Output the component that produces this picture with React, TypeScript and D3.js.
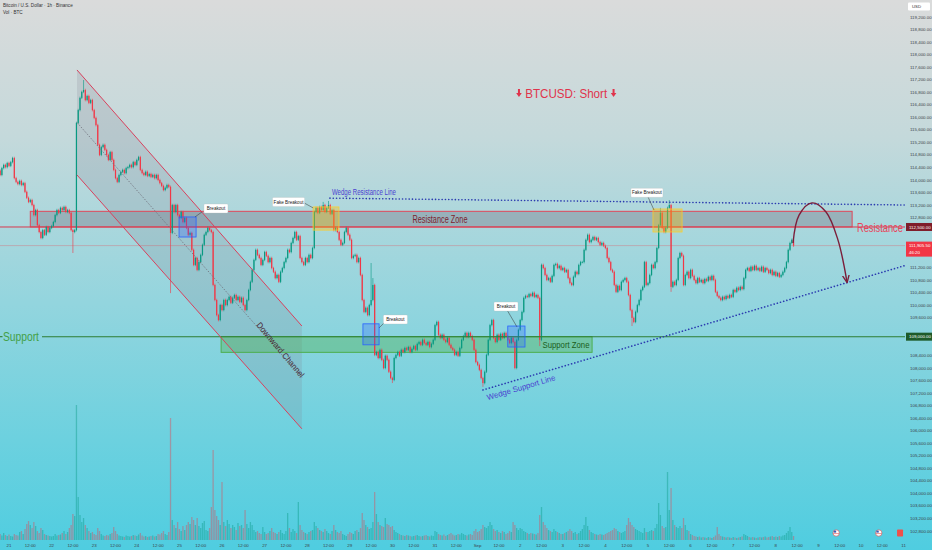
import React, { useRef, useEffect } from "react";
import * as d3 from "d3";

const W = 932;
const H = 550;
const HOUR = 3600e3;
const T0 = Date.UTC(2025, 7, 21); // Aug 21 00:00, hour 0 of the chart

// hourly closes (USD), first candle is Aug 20 19:00
const firstOpen = 114300;
const closes: number[] = [
  // Aug 20
  114160, 114380, 114480, 114410, 114540,
  // Aug 21
  114450, 114570, 114700, 114060, 113940, 113870, 113970, 113840, 113900, 113620, 113430, 113300,
  113360, 113200, 112880, 113040, 112560, 112340, 112150, 112400, 112250, 112500, 112340, 112470,
  // Aug 22
  112530, 112660, 112880, 113040, 112950, 113110, 113040, 113140, 112980, 113040, 112950, 112400,
  112340, 112400, 115820, 116230, 116620, 116810, 116870, 116550, 116680, 116460, 116550, 116230,
  // Aug 23
  115980, 115750, 115120, 114800, 115050, 115120, 114960, 114800, 114640, 114890, 114640, 114320,
  114060, 113940, 114160, 114260, 114320, 114220, 114380, 114410, 114480, 114410, 114570, 114480,
  // Aug 24
  114640, 114730, 114320, 114220, 114160, 114260, 114130, 114190, 114100, 114160, 114060, 114160,
  114000, 113900, 113810, 113680, 113750, 113840, 113780, 112310, 113200, 112980, 113200, 112880,
  // Aug 25
  112790, 112980, 112660, 112790, 112470, 112250, 112310, 111770, 111290, 111510, 111130, 111380,
  111610, 111930, 112250, 112340, 112470, 112400, 112340, 110650, 110170, 109690, 109530, 110010,
  // Aug 26
  109850, 110170, 110010, 110170, 110270, 110080, 110240, 110330, 110170, 110270, 110110, 110240,
  110010, 109850, 110170, 110490, 110750, 111130, 111450, 111770, 111610, 111510, 111290, 111450,
  // Aug 27
  111700, 111580, 111380, 111510, 111190, 111070, 110870, 110970, 110750, 111070, 111190, 111380,
  111510, 111770, 111700, 111990, 112150, 112340, 112090, 112210, 111510, 111380, 111290, 111510,
  // Aug 28
  111380, 111610, 111510, 111830, 112980, 113110, 112950, 113140, 113040, 113200, 112980, 113110,
  113200, 112920, 113040, 112400, 112470, 112340, 112090, 111930, 111990, 112340, 112470, 112250,
  // Aug 29
  112090, 111510, 111580, 111610, 111380, 111510, 110970, 110170, 109790, 109920, 109690, 110010,
  110170, 110650, 108420, 108510, 108320, 108580, 108260, 108000, 108390, 108260, 107880, 107680,
  // Aug 30
  107620, 108320, 108420, 108510, 108390, 108580, 108510, 108640, 108580, 108670, 108510, 108610,
  108700, 108580, 108770, 108830, 108740, 108900, 108800, 108740, 108830, 108670, 108770, 108900,
  // Aug 31
  109370, 109470, 109060, 108960, 109060, 108900, 108830, 108960, 108740, 108640, 108580, 108420,
  108510, 108390, 108640, 108900, 109020, 109120, 108990, 109120, 109020, 108900, 108580, 108190,
  // Sep 1
  108100, 107940, 107680, 107520, 107880, 108420, 108900, 109370, 109530, 108960, 108830, 109060,
  108900, 109090, 108960, 109120, 109020, 108900, 108800, 108960, 108830, 108000, 108900, 109220,
  // Sep 2
  109530, 109790, 110240, 110300, 110270, 110360, 110300, 110400, 110270, 110330, 110240, 108900,
  111290, 111190, 110970, 110810, 110870, 110750, 110940, 111290, 111320, 111190, 111260, 111130,
  // Sep 3
  111190, 111070, 111130, 110870, 110710, 110650, 110910, 111070, 111000, 111290, 111380, 111380,
  111770, 112090, 112250, 112020, 112090, 112180, 112090, 112150, 112020, 111930, 111990, 111900,
  // Sep 4
  111830, 111510, 111380, 111130, 111070, 110650, 110430, 110620, 110490, 110750, 110810, 110870,
  110750, 110330, 109850, 109600, 109470, 109790, 110010, 110170, 110490, 110590, 111380, 110650,
  // Sep 5
  110710, 110970, 111290, 111190, 111380, 111830, 112560, 112950, 112470, 112340, 112470, 113110,
  113200, 110590, 110750, 110650, 110810, 111510, 111670, 111580, 110650, 110970, 111070, 110870,
  // Sep 6
  111130, 110940, 110810, 110710, 110870, 110750, 110810, 110710, 110840, 110780, 110910, 110810,
  110940, 110810, 110430, 110300, 110240, 110170, 110270, 110200, 110300, 110240, 110330, 110270,
  // Sep 7
  110490, 110430, 110560, 110490, 110590, 110520, 110870, 111130, 111190, 111100, 111230, 111130,
  111260, 111130, 111190, 111100, 111230, 111070, 111190, 111130, 111030, 111130, 110970, 111070,
  // Sep 8
  110940, 111030, 110910, 110970, 111070, 111190, 111380, 111770, 111990, 112090, 111905.5,
];

// long wicks that stand out: [hour, price]
const highWicks: [number, number][] = [
  [42, 117190], [177, 113300], [180, 113330], [204, 111350], [205, 110870], [367, 113110], [372, 113360],
];
const lowWicks: [number, number][] = [
  [36, 111670], [91, 110390], [216, 107520], [267, 107400], [299, 108700], [351, 109340], [373, 110430],
];

// hourly volume (BTC)
const volumes: number[] = [
  60, 45, 70, 50, 40,
  55, 40, 35, 60, 50, 45, 80, 90, 60, 110, 160, 190, 150, 120, 180, 140, 90, 70, 120, 100, 60, 50, 45, 40,
  35, 40, 60, 45, 50, 55, 70, 90, 60, 80, 120, 150, 260, 240, 1350, 430, 250, 180, 220, 150, 120, 90, 70, 80,
  60, 50, 120, 90, 60, 45, 40, 50, 45, 60, 70, 130, 90, 60, 45, 40, 35, 30, 45, 40, 35, 40, 50, 45,
  40, 55, 70, 45, 35, 40, 30, 35, 40, 45, 35, 40, 60, 55, 70, 90, 60, 50, 80, 1220, 200, 150, 120, 180,
  110, 90, 140, 100, 150, 180, 160, 230, 200, 150, 220, 140, 120, 170, 190, 100, 90, 120, 330, 900, 300, 240, 200, 150,
  580, 180, 140, 200, 160, 120, 150, 130, 100, 170, 140, 150, 120, 300, 160, 120, 180, 150, 100, 80, 90, 70, 60, 130,
  80, 60, 70, 90, 120, 80, 70, 60, 80, 100, 70, 60, 90, 270, 120, 80, 110, 90, 70, 380, 150, 100, 80, 70,
  60, 80, 90, 100, 180, 140, 120, 100, 90, 80, 110, 90, 70, 60, 90, 150, 100, 80, 70, 90, 60, 50, 40, 60,
  80, 70, 60, 90, 100, 80, 120, 270, 200, 150, 130, 110, 120, 180, 480, 260, 180, 150, 140, 130, 220, 160, 150, 130,
  140, 100, 80, 70, 60, 50, 45, 40, 50, 45, 40, 35, 40, 45, 50, 40, 35, 40, 45, 50, 40, 35, 45, 40,
  90, 80, 60, 50, 45, 55, 40, 50, 60, 70, 55, 45, 50, 60, 55, 70, 60, 50, 45, 55, 60, 50, 90, 110,
  80, 90, 110, 150, 130, 120, 140, 180, 150, 110, 90, 100, 80, 70, 90, 80, 60, 70, 90, 80, 180, 150, 120, 100,
  120, 110, 90, 80, 70, 60, 70, 65, 60, 55, 70, 250, 330, 180, 150, 120, 100, 90, 80, 110, 90, 80, 70, 60,
  60, 70, 80, 90, 110, 90, 70, 80, 60, 70, 90, 110, 150, 230, 140, 100, 80, 70, 60, 55, 50, 60, 55, 50,
  60, 70, 80, 90, 100, 120, 110, 90, 80, 70, 80, 90, 150, 220, 180, 150, 130, 110, 100, 90, 80, 70, 120, 80,
  80, 90, 100, 90, 120, 160, 370, 250, 140, 120, 130, 680, 300, 520, 200, 150, 130, 120, 140, 120, 220, 150, 100, 90,
  60, 50, 40, 35, 30, 35, 25, 30, 25, 20, 30, 25, 20, 30, 45, 130, 60, 40, 35, 30, 25, 30, 25, 20,
  30, 25, 20, 25, 30, 35, 60, 50, 40, 30, 25, 30, 25, 20, 25, 30, 25, 30, 35, 25, 30, 35, 40, 30,
  35, 30, 40, 35, 45, 50, 70, 90, 130, 80, 40,
];

// drawings, in [hour, price]
const resistanceLevel = 112500;
const supportLevel = 109000;
const lastPrice = 111905.5;
const resistanceZone = { from: 12, to: 475, low: 112500, high: 113000 };
const supportZone = { from: 119.5, to: 328.5, low: 108500, high: 109000 };
const channelUpper: [number, number][] = [[38.3, 117510], [165, 109340]];
const channelLower: [number, number][] = [[38.3, 114160], [165, 106060]];
const wedgeTop: [number, number][] = [[180.8, 113420], [506, 113200]];
const wedgeBottom: [number, number][] = [[267, 107300], [506, 111290]];
const breakoutBoxes = [
  { from: 95.8, to: 105.4, low: 112180, high: 112820, label: [116.6, 113090], link: [[104.8, 112820], [108.7, 112980]] },
  { from: 199.4, to: 208.5, low: 108740, high: 109410, label: [217.7, 109550], link: [[208.5, 109280], [211.8, 109470]] },
  { from: 281, to: 290.7, low: 108670, high: 109340, label: [280, 109960], link: [[280.6, 109850], [286.2, 109310]] },
];
const fakeBoxes = [
  { from: 171.3, to: 185.9, low: 112400, high: 113140, label: [157.5, 113300], link: [[166.2, 113270], [171.3, 113110]] },
  { from: 362.8, to: 379.2, low: 112340, high: 113075, label: [359.4, 113590], link: [[360, 113460], [363.4, 113040]] },
];
const projection: [number, number][] = [
  [441.7, 111990], [445.1, 112880], [452.4, 113270], [460.3, 112980], [467, 112090], [472.1, 110750],
];
const titleAt: [number, number] = [313.9, 116775];
const titleArrows = [287.3, 340.6];

const FONT = "'Liberation Sans', Arial, sans-serif";
const UP = "#089981";
const DOWN = "#f23645";

const App = () => {
  const ref = useRef<SVGSVGElement>(null);

  useEffect(() => {
    const svg = d3.select(ref.current);
    svg.selectAll("*").remove();

    const x = d3
      .scaleUtc()
      .domain([new Date(T0), new Date(T0 + 504 * HOUR)])
      .range([9, 903.6]);
    const y = d3.scaleLinear().domain([102800, 119200]).range([531, 17]);
    const v = d3.scaleLinear().domain([0, 1400]).range([540, 400]);
    const X = (h: number) => x(new Date(T0 + h * HOUR));

    const defs = svg.append("defs");
    const grad = defs
      .append("linearGradient")
      .attr("id", "bg")
      .attr("x1", 0)
      .attr("y1", 0)
      .attr("x2", 0)
      .attr("y2", 1);
    [
      [0, "#dadbdb"],
      [0.25, "#c4d9db"],
      [0.55, "#93d5de"],
      [0.8, "#6cd1df"],
      [1, "#4fcde0"],
    ].forEach(([o, c]) => grad.append("stop").attr("offset", o).attr("stop-color", c));
    defs.append("clipPath").attr("id", "plot").append("rect").attr("width", 905).attr("height", 540);
    defs
      .append("marker")
      .attr("id", "head")
      .attr("viewBox", "0 0 10 10")
      .attr("refX", 8)
      .attr("refY", 5)
      .attr("markerWidth", 6)
      .attr("markerHeight", 6)
      .attr("orient", "auto")
      .append("path")
      .attr("d", "M0,1 L9,5 L0,9")
      .attr("fill", "none")
      .attr("stroke", "#7b1e3a")
      .attr("stroke-width", 1.6);

    svg.append("rect").attr("width", W).attr("height", H).attr("fill", "url(#bg)");

    const plot = svg.append("g").attr("clip-path", "url(#plot)");

    const candles = closes.map((c, i) => {
      const h = i - 5;
      const o = i === 0 ? firstOpen : closes[i - 1];
      const hw = highWicks.find((w) => w[0] === h);
      const lw = lowWicks.find((w) => w[0] === h);
      return {
        h,
        o,
        c,
        hi: hw ? hw[1] : Math.max(o, c) + 40,
        lo: lw ? lw[1] : Math.min(o, c) - 40,
        vol: volumes[i] ?? 40,
      };
    });

    // volume
    plot
      .append("g")
      .selectAll("rect")
      .data(candles)
      .enter()
      .append("rect")
      .attr("x", (d) => X(d.h) - 0.65)
      .attr("width", 1.3)
      .attr("y", (d) => v(d.vol))
      .attr("height", (d) => 540 - v(d.vol))
      .attr("fill", (d) => (d.c >= d.o ? "rgba(8,153,129,0.4)" : "rgba(242,54,69,0.38)"));

    // channel fill
    const chan = [channelUpper[0], channelUpper[1], channelLower[1], channelLower[0]];
    plot
      .append("path")
      .attr("d", "M" + chan.map((p) => `${X(p[0])},${y(p[1])}`).join("L") + "Z")
      .attr("fill", "rgba(130,130,145,0.2)");

    // last price line
    plot
      .append("line")
      .attr("x1", 0)
      .attr("x2", 905)
      .attr("y1", y(lastPrice))
      .attr("y2", y(lastPrice))
      .attr("stroke", "rgba(242,54,69,0.35)")
      .attr("stroke-width", 0.8);

    // zones
    plot
      .append("rect")
      .attr("x", X(resistanceZone.from))
      .attr("width", X(resistanceZone.to) - X(resistanceZone.from))
      .attr("y", y(resistanceZone.high))
      .attr("height", y(resistanceZone.low) - y(resistanceZone.high))
      .attr("fill", "rgba(120,120,135,0.4)")
      .attr("stroke", "#e0475a")
      .attr("stroke-width", 1);
    plot
      .append("rect")
      .attr("x", X(supportZone.from))
      .attr("width", X(supportZone.to) - X(supportZone.from))
      .attr("y", y(supportZone.high))
      .attr("height", y(supportZone.low) - y(supportZone.high))
      .attr("fill", "rgba(76,175,80,0.38)")
      .attr("stroke", "#4caf50")
      .attr("stroke-width", 1);

    plot
      .append("line")
      .attr("x1", 0)
      .attr("x2", 905)
      .attr("y1", y(resistanceLevel))
      .attr("y2", y(resistanceLevel))
      .attr("stroke", "#d83a4f")
      .attr("stroke-width", 1);

    // candles
    const cg = plot.append("g");
    cg.selectAll("line")
      .data(candles)
      .enter()
      .append("line")
      .attr("x1", (d) => X(d.h))
      .attr("x2", (d) => X(d.h))
      .attr("y1", (d) => y(d.hi))
      .attr("y2", (d) => y(d.lo))
      .attr("stroke", (d) => (d.c >= d.o ? UP : DOWN))
      .attr("stroke-width", 0.6);
    cg.selectAll("rect")
      .data(candles)
      .enter()
      .append("rect")
      .attr("x", (d) => X(d.h) - 0.6)
      .attr("width", 1.2)
      .attr("y", (d) => y(Math.max(d.o, d.c)))
      .attr("height", (d) => Math.max(0.7, Math.abs(y(d.o) - y(d.c))))
      .attr("fill", (d) => (d.c >= d.o ? UP : DOWN));

    // support line (gap for its label)
    [[0, 2.5], [42, 905]].forEach(([a, b]) =>
      plot
        .append("line")
        .attr("x1", a)
        .attr("x2", b)
        .attr("y1", y(supportLevel))
        .attr("y2", y(supportLevel))
        .attr("stroke", "#2e7d32")
        .attr("stroke-width", 1.1)
    );

    // channel lines
    [channelUpper, channelLower].forEach((ln) =>
      plot
        .append("line")
        .attr("x1", X(ln[0][0]))
        .attr("y1", y(ln[0][1]))
        .attr("x2", X(ln[1][0]))
        .attr("y2", y(ln[1][1]))
        .attr("stroke", "#d9415d")
        .attr("stroke-width", 1)
    );
    plot
      .append("line")
      .attr("x1", X(channelUpper[0][0]))
      .attr("y1", y((channelUpper[0][1] + channelLower[0][1]) / 2))
      .attr("x2", X(channelUpper[1][0]))
      .attr("y2", y((channelUpper[1][1] + channelLower[1][1]) / 2))
      .attr("stroke", "#6f6f7a")
      .attr("stroke-width", 0.8)
      .attr("stroke-dasharray", "1.5 1.5");

    // wedge lines
    [wedgeTop, wedgeBottom].forEach((ln) =>
      plot
        .append("line")
        .attr("x1", X(ln[0][0]))
        .attr("y1", y(ln[0][1]))
        .attr("x2", X(ln[1][0]))
        .attr("y2", y(ln[1][1]))
        .attr("stroke", "#2b3bb0")
        .attr("stroke-width", 1.6)
        .attr("stroke-linecap", "round")
        .attr("stroke-dasharray", "0.1 3.2")
    );

    // breakout / fake breakout boxes with labels
    const boxLabel = (b: any, text: string, w: number, fill: string, stroke: string) => {
      plot
        .append("rect")
        .attr("x", X(b.from))
        .attr("width", X(b.to) - X(b.from))
        .attr("y", y(b.high))
        .attr("height", y(b.low) - y(b.high))
        .attr("fill", fill)
        .attr("stroke", stroke)
        .attr("stroke-width", 0.8);
      plot
        .append("line")
        .attr("x1", X(b.link[0][0]))
        .attr("y1", y(b.link[0][1]))
        .attr("x2", X(b.link[1][0]))
        .attr("y2", y(b.link[1][1]))
        .attr("stroke", "#333")
        .attr("stroke-width", 0.5);
      const cx = X(b.label[0]);
      const cy = y(b.label[1]);
      plot
        .append("rect")
        .attr("x", cx - w / 2)
        .attr("y", cy - 4.5)
        .attr("width", w)
        .attr("height", 9)
        .attr("rx", 1)
        .attr("fill", "#fff")
        .attr("stroke", "#bbb")
        .attr("stroke-width", 0.3);
      plot
        .append("text")
        .attr("x", cx)
        .attr("y", cy + 1.6)
        .attr("text-anchor", "middle")
        .attr("font-family", FONT)
        .attr("font-size", 4.6)
        .attr("fill", "#222")
        .text(text);
    };
    breakoutBoxes.forEach((b) => boxLabel(b, "Breakout", 24, "rgba(41,98,255,0.28)", "#2962ff"));
    fakeBoxes.forEach((b) => boxLabel(b, "Fake Breakout", 32, "rgba(255,196,0,0.35)", "rgba(255,205,40,0.9)"));

    // projected path
    plot
      .append("path")
      .datum(projection)
      .attr(
        "d",
        d3
          .line<[number, number]>()
          .x((d) => X(d[0]))
          .y((d) => y(d[1]))
          .curve(d3.curveCatmullRom.alpha(0.5))
      )
      .attr("fill", "none")
      .attr("stroke", "#7b1e3a")
      .attr("stroke-width", 1.4)
      .attr("marker-end", "url(#head)");

    // texts
    const txt = (
      hx: number,
      py: number,
      s: string,
      size: number,
      color: string,
      len: number,
      anchor = "middle",
      rot = 0
    ) =>
      plot
        .append("text")
        .attr("transform", `translate(${X(hx)},${y(py)}) rotate(${rot})`)
        .attr("dy", "0.35em")
        .attr("text-anchor", anchor)
        .attr("font-family", FONT)
        .attr("font-size", size)
        .attr("fill", color)
        .attr("textLength", len)
        .attr("lengthAdjust", "spacingAndGlyphs")
        .text(s);
    txt(titleAt[0], titleAt[1], "BTCUSD: Short", 13, "#e0344c", 82);
    txt(242.8, 112740, "Resistance Zone", 10.5, "#7b1e2e", 55);
    txt(313.8, 108745, "Support Zone", 9.5, "#1b5e20", 47);
    txt(200, 113630, "Wedge Resistance Line", 8.5, "#4b3fd0", 64);
    txt(288.5, 107380, "Wedge Support Line", 8, "#4b3fd0", 71, "middle", -16.4);
    txt(153, 108580, "Downward Channel", 8.5, "#4a2a36", 69, "middle", 50);
    txt(477.7, resistanceLevel, "Resistance", 13, "#e8445a", 46, "start");
    txt(-3.4, supportLevel, "Support", 12.5, "#43a047", 36, "start");

    // title arrows
    titleArrows.forEach((hx) => {
      const cx = X(hx);
      const cy = y(titleAt[1]);
      plot
        .append("path")
        .attr(
          "d",
          `M${cx - 1},${cy - 4} L${cx + 1},${cy - 4} L${cx + 1},${cy} L${cx + 2.8},${cy} L${cx},${cy + 4} L${cx - 2.8},${cy} L${cx - 1},${cy} Z`
        )
        .attr("fill", "#e0344c");
    });

    // header
    svg
      .append("text")
      .attr("x", 3)
      .attr("y", 7)
      .attr("font-family", FONT)
      .attr("font-size", 4.6)
      .attr("fill", "#333")
      .text("Bitcoin / U.S. Dollar · 1h · Binance");
    svg
      .append("text")
      .attr("x", 3)
      .attr("y", 14)
      .attr("font-family", FONT)
      .attr("font-size", 4.6)
      .attr("fill", "#333")
      .text("Vol · BTC");

    // price axis
    const ax = svg.append("g");
    ax.append("rect")
      .attr("x", 908)
      .attr("y", 2.5)
      .attr("width", 22)
      .attr("height", 8)
      .attr("rx", 1)
      .attr("fill", "#fff");
    ax.append("text")
      .attr("x", 912)
      .attr("y", 8)
      .attr("font-family", FONT)
      .attr("font-size", 4.3)
      .attr("fill", "#333")
      .text("USD");
    const fmt = d3.format(",.2f");
    const tags = [
      { p: resistanceLevel, bg: "#7f1d2a", lines: [fmt(resistanceLevel)], h: 8 },
      { p: lastPrice, bg: "#f23645", lines: [fmt(lastPrice), "46:20"], h: 15 },
      { p: supportLevel, bg: "#1e5b2a", lines: [fmt(supportLevel)], h: 8 },
    ];
    d3.range(102800, 119201, 400)
      .filter((p) => tags.every((t) => y(p) < y(t.p) - 7 || y(p) > y(t.p) - 4 + t.h + 3))
      .forEach((p) => {
        ax.append("text")
          .attr("x", 910)
          .attr("y", y(p))
          .attr("dy", "0.35em")
          .attr("font-family", FONT)
          .attr("font-size", 4.4)
          .attr("fill", "#3c4448")
          .text(fmt(p));
      });
    tags.forEach((t) => {
      const cy = y(t.p);
      ax.append("rect")
        .attr("x", 906)
        .attr("y", cy - 4)
        .attr("width", 26)
        .attr("height", t.h)
        .attr("fill", t.bg);
      t.lines.forEach((s, i) =>
        ax
          .append("text")
          .attr("x", 909)
          .attr("y", cy + 1.6 + i * 6.5)
          .attr("font-family", FONT)
          .attr("font-size", 4.4)
          .attr("fill", "#fff")
          .text(s)
      );
    });

    // time axis
    const ticks = d3.range(0, 505, 12).map((h) => new Date(T0 + h * HOUR));
    ticks.forEach((t) => {
      const hr = t.getUTCHours();
      const day = t.getUTCDate();
      const s = hr === 12 ? "12:00" : day === 1 ? "Sep" : String(day);
      svg
        .append("text")
        .attr("x", x(t))
        .attr("y", 546.5)
        .attr("text-anchor", "middle")
        .attr("font-family", FONT)
        .attr("font-size", 4.4)
        .attr("fill", "#3c4448")
        .text(s);
    });

    // event markers near the time axis
    [466, 490].forEach((h) => {
      const g = svg.append("g").attr("transform", `translate(${X(h)},533)`);
      g.append("circle").attr("r", 3.2).attr("fill", "#fff").attr("stroke", "#c44").attr("stroke-width", 0.6);
      g.append("rect").attr("x", -2.4).attr("y", -2.4).attr("width", 2.4).attr("height", 2).attr("fill", "#3c5bb5");
      g.append("line").attr("x1", -2.8).attr("x2", 2.8).attr("y1", 0.6).attr("y2", 0.6).attr("stroke", "#d44").attr("stroke-width", 0.6);
    });
    svg
      .append("rect")
      .attr("x", X(502) - 3)
      .attr("y", 529.5)
      .attr("width", 6)
      .attr("height", 7)
      .attr("rx", 0.8)
      .attr("fill", "#f0504a");
  }, []);

  return (
    <svg
      ref={ref}
      width={W}
      height={H}
      style={{ position: "absolute", left: 0, top: 0, display: "block" }}
    ></svg>
  );
};

export default App;
